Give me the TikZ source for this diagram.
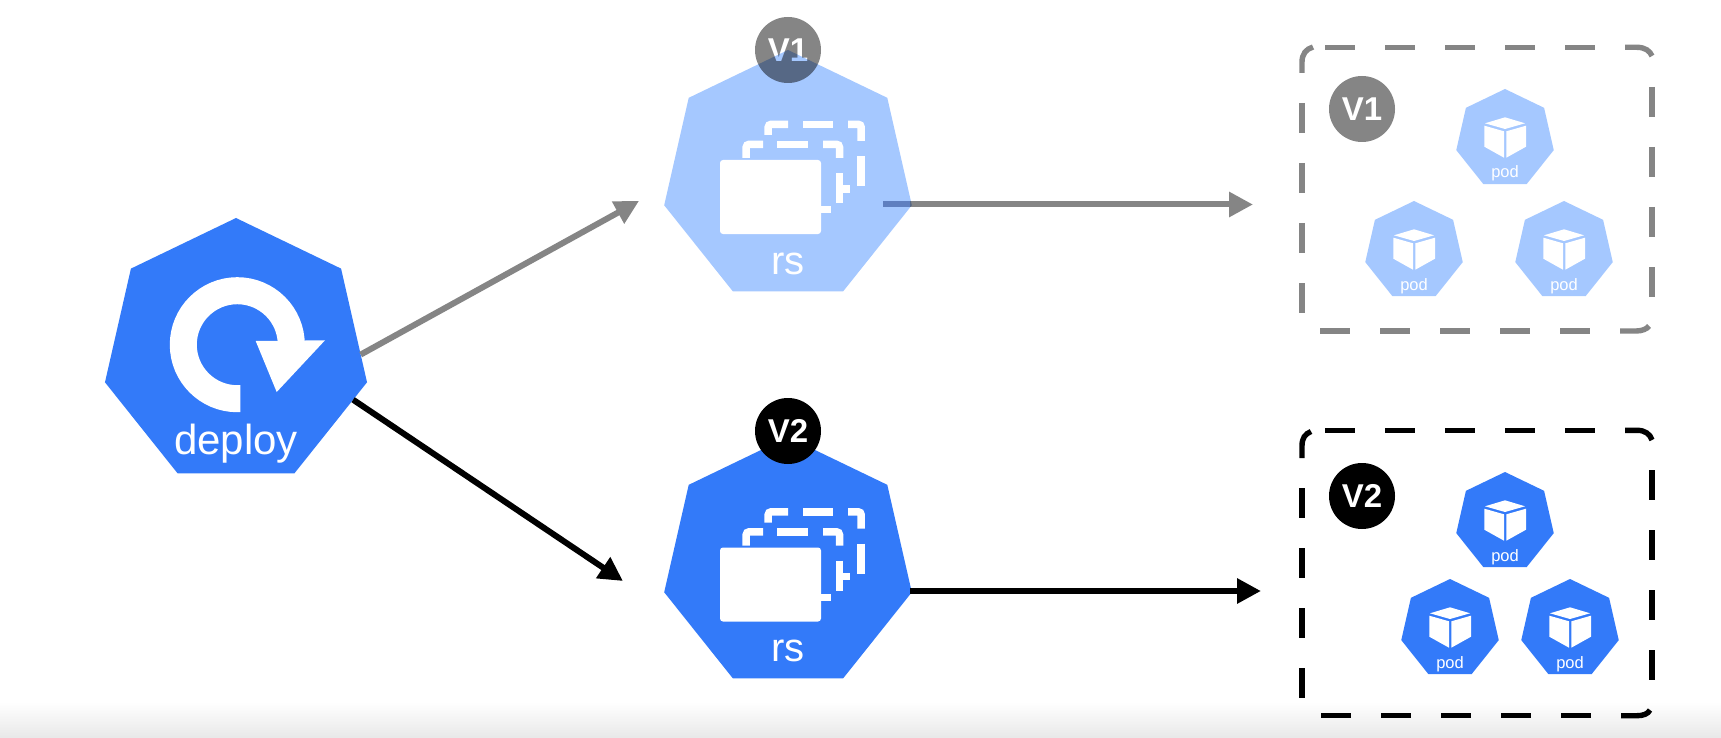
\documentclass[tikz,border=0pt]{standalone}
\usepackage{fontspec}
\setmainfont{Liberation Sans}
\usetikzlibrary{shapes.geometric,arrows.meta,calc}
\definecolor{kblue}{HTML}{337AF9}
\definecolor{klight}{HTML}{A5C8FF}
\definecolor{kgray}{HTML}{858585}
\definecolor{koverlap}{HTML}{5F7FBF}
\tikzset{
  hept/.style={regular polygon,regular polygon sides=7,draw=none,inner sep=0pt,outer sep=0pt,minimum size=#1},
  tag/.style={circle,minimum size=66pt,inner sep=0pt,outer sep=0pt,text=white,font=\fontsize{33}{33}\selectfont\bfseries},
  conn/.style={line width=6pt,-{Triangle[length=24pt,width=24pt]}},
  boxline/.style={line width=5.4pt},
  iconline/.style={line width=7.5pt,white},
  lbl/.style={text=white,anchor=base,inner sep=0pt,outer sep=0pt},
}
\newcommand{\rsicon}[1]{%
  \begin{scope}[yshift=-#1pt]
    \draw[iconline,rounded corners=3pt] (768.2,135)--(768.2,124.3)--(788,124.3);
    \draw[iconline] (803,124.3)--(833,124.3);
    \draw[iconline,rounded corners=3pt] (848,124.3)--(861.2,124.3)--(861.2,141);
    \draw[iconline] (861.2,156)--(861.2,186);
    \draw[iconline,rounded corners=3pt] (746.2,158)--(746.2,144.3)--(763,144.3);
    \draw[iconline] (777,144.3)--(808,144.3);
    \draw[iconline,rounded corners=3pt] (823,144.3)--(839.5,144.3)--(839.5,158);
    \draw[iconline] (839.5,173)--(839.5,203);
    \draw[iconline] (839.5,189)--(850,189);
    \fill[white,rounded corners=3pt] (720,160) rectangle (821,234);
    \fill[white] (821,206) rectangle (831,213);
  \end{scope}}
% name, x of centre, y of top vertex, fill
\newcommand{\podat}[4]{%
  \node[hept=100pt,fill=#4] (#1) at (#2,#3+50) {};
  \begin{scope}[shift={(#2,#3)}]
    \fill[white] (0,28.3)--(20,34.3)--(0,40)--(-20,34.3)--cycle;
    \fill[white] (-20.7,36.7)--(-1,42.3)--(-1,68.7)--(-20.7,57.7)--cycle;
    \fill[white] (1.3,42.3)--(21,36.7)--(21,57.7)--(1.3,68.7)--cycle;
    \node[lbl,font=\fontsize{16.5}{16.5}\selectfont] (#1label) at (0,89) {pod};
  \end{scope}}
\begin{document}
\begin{tikzpicture}[x=1pt,y=-1pt]
\useasboundingbox (0,0) rectangle (1721,738);
\fill[white] (0,0) rectangle (1721,738);
\shade[top color=white,bottom color=black!9] (0,702) rectangle (1721,738);

% V1 replica set: the tag and the connector lie under the multiplied hexagon
\coordinate (rsAOut) at (883,204.5);
\coordinate (rsAMid) at (910,204.5);
\coordinate (boxAIn) at (1253,204.5);
\coordinate (rsAIn) at (639,201);
\coordinate (rsBIn) at (623,581);
\coordinate (rsBOut) at (910,591);
\coordinate (boxBIn) at (1261,591);
\draw[conn,kgray] (rsAOut) -- (boxAIn);
\node[tag,fill=kgray] (tagRsA) at (788,50) {V1};
\begin{scope}[blend mode=multiply]
  \node[hept=254pt,fill=klight] (rsA) at (788,177) {};
\end{scope}
\draw[line width=6pt,koverlap] (rsAOut) -- (rsAMid);
\rsicon{0}
\node[lbl,font=\fontsize{40}{40}\selectfont] (rsAlabel) at (788,274) {rs};

% V2 replica set
\node[hept=254pt,fill=kblue] (rsB) at (788,564) {};
\rsicon{387.5}
\node[lbl,font=\fontsize{40}{40}\selectfont] (rsBlabel) at (788,661.5) {rs};
\node[tag,fill=black] (tagRsB) at (788,431) {V2};

% deployment
\node[hept=268.8pt,fill=kblue] (deploy) at (236,352.4) {};
\draw[line width=27pt,white] (240.3,398.7) -- (237.3,398.7) .. controls (207.5,398.7) and (183.3,374.5) .. (183.3,344.7)
  .. controls (183.3,314.9) and (207.5,290.7) .. (237.3,290.7)
  .. controls (267.1,290.7) and (291.3,314.9) .. (291.3,344.7);
\fill[white] (255.7,341) -- (325,340.3) -- (276.7,392) -- cycle;
\node[lbl,font=\fontsize{42}{42}\selectfont] (deploylabel) at (236,454) {deploy};

% connectors
\draw[conn,kgray] (deploy.-1) -- (rsAIn);
\draw[conn,black] (deploy.-22) -- (rsBIn);
\draw[conn,black] (rsBOut) -- (boxBIn);

% V1 group
\draw[boxline,kgray] (1302,73) -- (1302,62) .. controls (1302,54) and (1306,49) .. (1313,47);
\foreach \x in {1325,1385,...,1565} \draw[boxline,kgray] (\x,47.3) -- +(30,0);
\draw[boxline,kgray] (1625,47.3) -- (1637,47.3) .. controls (1645,47.3) and (1650,51) .. (1652,56);
\foreach \y in {87,147,...,267} \draw[boxline,kgray] (1652,\y) -- +(0,30);
\draw[boxline,kgray] (1620,331) -- (1636,331) .. controls (1642,331) and (1647,329) .. (1649,326);
\foreach \x in {1320,1380,...,1560} \draw[boxline,kgray] (\x,331) -- +(30,0);
\foreach \y in {103,163,...,283} \draw[boxline,kgray] (1302,\y) -- +(0,30);
\node[tag,fill=kgray] (tagBoxA) at (1362,109) {V1};
\podat{podA}{1505}{89}{klight}
\podat{podB}{1414}{201}{klight}
\podat{podC}{1564}{201}{klight}

% V2 group
\draw[boxline,black] (1302,458) -- (1302,446) .. controls (1302,438) and (1305,434) .. (1311,431.5);
\foreach \x in {1325,1385,...,1565} \draw[boxline,black] (\x,430.3) -- +(30,0);
\draw[boxline,black] (1625,430.3) -- (1637,430.3) .. controls (1645,430.3) and (1650,434) .. (1652,440);
\foreach \y in {470,530,...,650} \draw[boxline,black] (1652,\y) -- +(0,30);
\draw[boxline,black] (1621,715.7) -- (1637,715.7) .. controls (1643,715.7) and (1648,714) .. (1650,710);
\foreach \x in {1321,1381,...,1561} \draw[boxline,black] (\x,715.7) -- +(30,0);
\foreach \y in {488,548,...,668} \draw[boxline,black] (1302,\y) -- +(0,30);
\node[tag,fill=black] (tagBoxB) at (1362,496) {V2};
\podat{podD}{1505}{472}{kblue}
\podat{podE}{1450}{579}{kblue}
\podat{podF}{1570}{579}{kblue}
\end{tikzpicture}
\end{document}
